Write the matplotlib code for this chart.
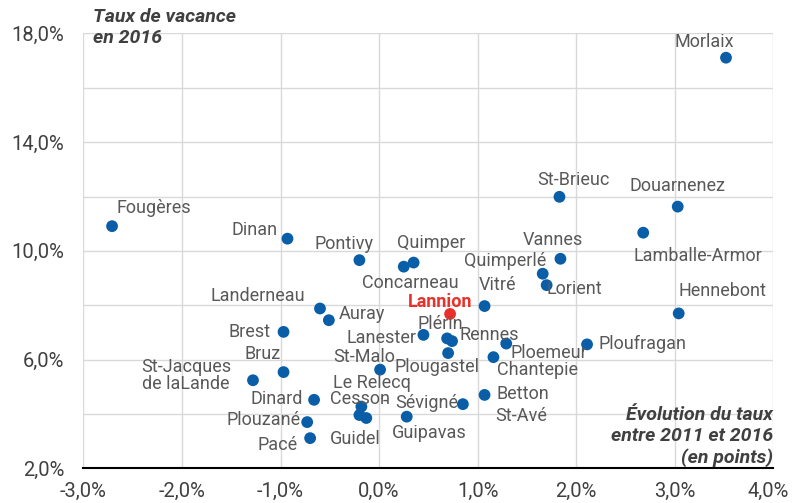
import matplotlib
matplotlib.use("Agg")
import matplotlib.pyplot as plt
import matplotlib.transforms as mtransforms

plt.rcParams['font.family'] = ['Roboto', 'DejaVu Sans']

# ---- data ----
names = ["Morlaix", "Douarnenez", "St-Brieuc", "Lamballe-Armor", "Fougères", "Dinan",
         "Pontivy", "Concarneau", "Quimper", "Vannes", "Quimperlé", "Lorient", "Vitré",
         "Lannion", "Hennebont", "Landerneau", "Auray", "Brest", "Lanester", "Plérin",
         "Rennes", "Ploemeur", "Ploufragan", "Plougastel", "Chantepie", "St-Malo", "Bruz",
         "St-Jacques\nde laLande", "Dinard", "Betton", "St-Avé", "Le Relecq",
         "Cesson-Sévigné", "Guidel", "Guipavas", "Plouzané", "Pacé"]
evolution = [3.52, 3.03, 1.83, 2.68, -2.71, -0.93,
             -0.20, 0.25, 0.35, 1.84, 1.66, 1.70, 1.07,
             0.72, 3.04, -0.60, -0.51, -0.97, 0.45, 0.69,
             0.74, 1.29, 2.11, 0.70, 1.16, 0.01, -0.97,
             -1.28, -0.66, 1.07, 0.85, -0.18,
             -0.20, -0.13, 0.28, -0.73, -0.70]
vacance = [17.11, 11.63, 11.99, 10.67, 10.91, 10.45,
           9.66, 9.42, 9.57, 9.71, 9.16, 8.74, 7.97,
           7.68, 7.70, 7.88, 7.45, 7.02, 6.91, 6.78,
           6.68, 6.59, 6.56, 6.24, 6.09, 5.63, 5.54,
           5.24, 4.52, 4.70, 4.36, 4.27,
           3.96, 3.85, 3.90, 3.70, 3.11]
highlight = "Lannion"

x_ticks = [-3, -2, -1, 0, 1, 2, 3, 4]
x_tick_labels = ["-3,0%", "-2,0%", "-1,0%", "0,0%", "1,0%", "2,0%", "3,0%", "4,0%"]
y_ticks = [2, 6, 10, 14, 18]
y_tick_labels = ["2,0%", "6,0%", "10,0%", "14,0%", "18,0%"]

# ---- label layout (offsets in pixels, text centre relative to marker) ----
label_offsets = {
    "Morlaix": [("Morlaix", -22, 16)],
    "Douarnenez": [("Douarnenez", 0, 21)],
    "St-Brieuc": [("St-Brieuc", 14, 17)],
    "Lamballe-Armor": [("Lamballe-Armor", 55, -23)],
    "Fougères": [("Fougères", 42, 18)],
    "Dinan": [("Dinan", -33, 9)],
    "Pontivy": [("Pontivy", -15, 16)],
    "Concarneau": [("Concarneau", 7, -16)],
    "Quimper": [("Quimper", 18, 20)],
    "Vannes": [("Vannes", -8, 19)],
    "Quimperlé": [("Quimperlé", -38, 13)],
    "Lorient": [("Lorient", 28, -4)],
    "Vitré": [("Vitré", 13, 21)],
    "Lannion": [("Lannion", -10, 12)],
    "Hennebont": [("Hennebont", 44, 22)],
    "Landerneau": [("Landerneau", -62, 13)],
    "Auray": [("Auray", 33, 6)],
    "Brest": [("Brest", -34, 0)],
    "Lanester": [("Lanester", -42, -3)],
    "Plérin": [("Plérin", -7, 14)],
    "Rennes": [("Rennes", 37, 6)],
    "Ploemeur": [("Ploemeur", 43, -9)],
    "Ploufragan": [("Ploufragan", 55, 0)],
    "Plougastel": [("Plougastel", -11, -14)],
    "Chantepie": [("Chantepie", 44, -13)],
    "St-Malo": [("St-Malo", -16, 13)],
    "Bruz": [("Bruz", -21, 18)],
    "St-Jacques\nde laLande": [("St-Jacques\nde laLande", -67, 5)],
    "Dinard": [("Dinard", -37, 1)],
    "Betton": [("Betton", 38, 1)],
    "St-Avé": [("St-Avé", 58, -12)],
    "Le Relecq": [("Le Relecq", 11, 24)],
    "Cesson-Sévigné": [("Cesson", 1, 16), ("-", 26, 14), ("Sévigné", 67, 12)],
    "Guidel": [("Guidel", -11, -21)],
    "Guipavas": [("Guipavas", 23, -16)],
    "Plouzané": [("Plouzané", -44, 2)],
    "Pacé": [("Pacé", -33, -7)],
}

blue = "#0A5EA8"
red = "#E8312A"
label_color = "#595959"
tick_color = "#404040"

fig = plt.figure(figsize=(7.92, 5.03), dpi=100)
ax = fig.add_axes([0.1054, 0.069, 0.8710, 0.8644])

colors = [red if n == highlight else blue for n in names]
ax.scatter(evolution, vacance, s=72, c=colors, zorder=3, linewidths=0)

for n, x, y in zip(names, evolution, vacance):
    for txt, dx, dy in label_offsets[n]:
        is_h = (n == highlight)
        ax.annotate(txt, (x, y), xytext=(dx, dy), textcoords='offset pixels',
                    ha='center', va='center', fontsize=13,
                    color=red if is_h else label_color,
                    fontweight='bold' if is_h else 'normal',
                    multialignment='center', linespacing=0.95, zorder=4)

ax.set_xlim(-3, 4)
ax.set_ylim(2, 18)
ax.set_xticks(x_ticks)
ax.set_xticklabels(x_tick_labels)
ax.set_yticks(y_ticks)
ax.set_yticklabels(y_tick_labels)
ax.set_yticks([4, 8, 12, 16], minor=True)
ax.tick_params(which='both', length=0)
ax.tick_params(axis='both', labelsize=14.5, colors=tick_color)
ax.tick_params(axis='x', pad=10)
ax.tick_params(axis='y', pad=14)

# keep the last x tick label inside the figure
last = ax.get_xticklabels()[-1]
last.set_transform(last.get_transform() +
                   mtransforms.ScaledTranslation(-5 / 100, 0, fig.dpi_scale_trans))

ax.grid(True, which='both', color='#D9D9D9', linewidth=1.0, zorder=0)
ax.set_axisbelow(True)
for side in ['top', 'right', 'left']:
    ax.spines[side].set_visible(False)
ax.spines['bottom'].set_color('#000000')
ax.spines['bottom'].set_linewidth(1.5)
ax.spines['bottom'].set_zorder(5)

fig.text(93 / 792, 1 - 8 / 503, "Taux de vacance\nen 2016", ha='left', va='top',
         fontsize=14, fontweight='bold', fontstyle='italic', color=tick_color,
         linespacing=1.2)
fig.text(773 / 792, 1 - 467 / 503, "Évolution du taux\nentre 2011 et 2016\n(en points)",
         ha='right', va='bottom', fontsize=14, fontweight='bold', fontstyle='italic',
         color=tick_color, linespacing=1.2, multialignment='right')

fig.savefig("out.png", dpi=100)
